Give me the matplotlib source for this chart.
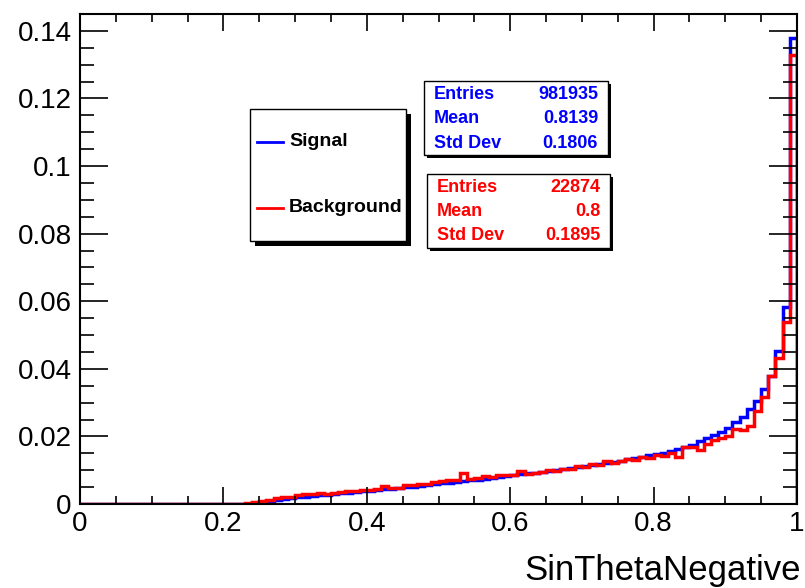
import numpy as np
import matplotlib
matplotlib.use("Agg")
import matplotlib.pyplot as plt
from matplotlib.patches import Rectangle

plt.rcParams['font.family'] = ['Liberation Sans', 'DejaVu Sans']

# ---- data (100 bins from 0 to 1) ----
bin_edges = np.linspace(0.0, 1.0, 101)

signal = [0.0] * 24 + [
    0.0001, 0.0004, 0.0008, 0.0011, 0.0014, 0.0017,               # 24-29
    0.0020, 0.0022, 0.0024, 0.0026, 0.0028, 0.0030, 0.0032, 0.0033, 0.0035, 0.0037,  # 30-39
    0.0039, 0.0041, 0.0043, 0.0045, 0.0047, 0.0049, 0.0051, 0.0054, 0.0056, 0.0059,  # 40-49
    0.0061, 0.0063, 0.0065, 0.0068, 0.0070, 0.0072, 0.0075, 0.0077, 0.0080, 0.0082,  # 50-59
    0.0085, 0.0088, 0.0091, 0.0093, 0.0095, 0.0097, 0.0100, 0.0103, 0.0106, 0.0109,  # 60-69
    0.0111, 0.0114, 0.0118, 0.0121, 0.0124, 0.0128, 0.0132, 0.0136, 0.0140, 0.0144,  # 70-79
    0.0148, 0.0152, 0.0157, 0.0162, 0.0170, 0.0176, 0.0186, 0.0195, 0.0204, 0.0213,  # 80-89
    0.0225, 0.0242, 0.0258, 0.0280, 0.0305, 0.0340, 0.0378, 0.0452, 0.0582, 0.1380,  # 90-99
]

background = [0.0] * 23 + [
    0.0002, 0.0006, 0.0009, 0.0013, 0.0017, 0.0020, 0.0022,       # 23-29
    0.0026, 0.0029, 0.0031, 0.0032, 0.0031, 0.0033, 0.0035, 0.0038, 0.0037, 0.0040,  # 30-39
    0.0041, 0.0044, 0.0052, 0.0046, 0.0047, 0.0055, 0.0056, 0.0058, 0.0060, 0.0064,  # 40-49
    0.0068, 0.0070, 0.0071, 0.0092, 0.0075, 0.0076, 0.0082, 0.0079, 0.0086, 0.0085,  # 50-59
    0.0087, 0.0097, 0.0090, 0.0092, 0.0094, 0.0100, 0.0098, 0.0105, 0.0104, 0.0112,  # 60-69
    0.0110, 0.0118, 0.0116, 0.0126, 0.0121, 0.0128, 0.0134, 0.0131, 0.0138, 0.0136,  # 70-79
    0.0145, 0.0141, 0.0150, 0.0139, 0.0168, 0.0168, 0.0160, 0.0178, 0.0190, 0.0194,  # 80-89
    0.0200, 0.0222, 0.0220, 0.0232, 0.0275, 0.0316, 0.0378, 0.0431, 0.0540, 0.1330,  # 90-99
]

x_ticks = [0, 0.2, 0.4, 0.6, 0.8, 1.0]
x_tick_labels = ["0", "0.2", "0.4", "0.6", "0.8", "1"]
y_ticks = [0, 0.02, 0.04, 0.06, 0.08, 0.10, 0.12, 0.14]
y_tick_labels = ["0", "0.02", "0.04", "0.06", "0.08", "0.1", "0.12", "0.14"]

sig_stats = [("Entries", "981935"), ("Mean", "0.8139"), ("Std Dev", "0.1806")]
bkg_stats = [("Entries", "22874"), ("Mean", "0.8"), ("Std Dev", "0.1895")]

BLUE = (0, 0, 1)
RED = (1, 0, 0)

W, H = 805, 588
fig = plt.figure(figsize=(W / 100, H / 100), dpi=100)
ax_l, ax_r, ax_b, ax_t = 80, 797, 504, 14
ax = fig.add_axes([ax_l / W, 1 - ax_b / H, (ax_r - ax_l) / W, (ax_b - ax_t) / H])

ax.stairs(signal, bin_edges, color=BLUE, lw=2.5, baseline=0)
ax.stairs(background, bin_edges, color=RED, lw=2.5, baseline=0)

ax.set_xlim(0, 1)
ax.set_ylim(0, 0.145)

ax.set_xticks(x_ticks)
ax.set_xticklabels(x_tick_labels)
ax.set_xticks(np.arange(0, 1.0001, 0.05), minor=True)
ax.set_yticks(y_ticks)
ax.set_yticklabels(y_tick_labels)
ax.set_yticks(np.arange(0, 0.1451, 0.005), minor=True)

ax.tick_params(axis='x', which='major', direction='in', length=12, width=1.2,
               top=True, bottom=True, labelsize=20, pad=5)
ax.tick_params(axis='x', which='minor', direction='in', length=6, width=1.2,
               top=True, bottom=True)
ax.tick_params(axis='y', which='major', direction='in', length=20, width=1.2,
               left=True, right=True, labelsize=20, pad=6)
ax.tick_params(axis='y', which='minor', direction='in', length=10, width=1.2,
               left=True, right=True)
for s in ax.spines.values():
    s.set_linewidth(1.5)

fig.text(801 / W, 1 - 580 / H, "SinThetaNegative", ha='right', va='baseline', fontsize=25)


def px_box(x0, y0, x1, y1, shadow):
    # shadow
    fig.patches.append(Rectangle((x0 / W + shadow / W, 1 - (y1 + shadow) / H),
                                 (x1 - x0) / W, (y1 - y0) / H,
                                 transform=fig.transFigure, facecolor='black',
                                 edgecolor='black', lw=0, zorder=5))
    fig.patches.append(Rectangle((x0 / W, 1 - y1 / H), (x1 - x0) / W, (y1 - y0) / H,
                                 transform=fig.transFigure, facecolor='white',
                                 edgecolor='black', lw=1.0, zorder=6))


# legend
px_box(250, 109, 406, 241, 5)
legend_entries = [("Signal", BLUE, 142), ("Background", RED, 208)]
for lab, col, yy in legend_entries:
    fig.add_artist(plt.Line2D([257 / W, 283 / W], [1 - yy / H, 1 - yy / H],
                              transform=fig.transFigure, color=col, lw=2.0, zorder=7))
    fig.text(289 / W, 1 - yy / H, lab, ha='left', va='center', fontsize=14,
             fontweight='bold', color='black', zorder=8)

# stat boxes
def stat_box(x0, y0, x1, y1, rows, ys, col, xl, xr):
    px_box(x0, y0, x1, y1, 3)
    for (k, v), yy in zip(rows, ys):
        fig.text(xl / W, 1 - yy / H, k, ha='left', va='center', fontsize=13,
                 fontweight='bold', color=col, zorder=8)
        fig.text(xr / W, 1 - yy / H, v, ha='right', va='center', fontsize=13,
                 fontweight='bold', color=col, zorder=8)


stat_box(424, 81, 608, 155, sig_stats, [94, 119, 143], BLUE, 434, 598)
stat_box(427, 174, 610, 248, bkg_stats, [188, 212, 236], RED, 437, 600)

fig.savefig("out.png", dpi=100)
